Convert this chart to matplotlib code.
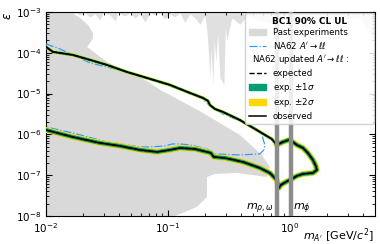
import matplotlib
matplotlib.use("Agg")
import matplotlib.pyplot as plt
from matplotlib.lines import Line2D
from matplotlib.patches import Patch

# resonance masses [GeV]
m_rho_omega = 0.78
m_phi = 1.02

# past experiments: main excluded region (closed polygon)
past_m = [0.0100, 0.0157, 0.0190, 0.0221, 0.0243, 0.0243, 0.0230, 0.0217, 0.0316, 0.0590,
          0.0753, 0.0860, 0.1038, 0.1936, 0.389, 0.5895, 0.6856, 0.647, 0.368, 0.2426,
          0.209, 0.209, 0.173, 0.1377, 0.114, 0.0100]
past_eps = [1e-3, 1e-3, 7.13e-4, 4.8e-4, 3.05e-4, 2.31e-4, 1.74e-4, 1.39e-4, 5.96e-5, 2.55e-5,
            1.63e-5, 1.23e-5, 9.24e-6, 3.35e-6, 9.67e-7, 3.13e-7, 1.58e-7, 9.0e-8, 1.13e-7, 1.07e-7,
            9.0e-8, 2.92e-8, 1.66e-8, 1.25e-8, 1e-8, 1e-8]

# past experiments: spiky band at the top (lower edge)
top_m = [0.0151, 0.0163, 0.0173, 0.0190, 0.0209, 0.0230, 0.0252, 0.0277, 0.0293, 0.0335,
         0.0368, 0.0389, 0.0444, 0.0488, 0.0537, 0.0590, 0.0648, 0.0712, 0.0782, 0.0860,
         0.0944, 0.1038, 0.114, 0.1254, 0.1377, 0.1514, 0.1663, 0.1829, 0.201, 0.2100,
         0.2209, 0.226, 0.234, 0.240, 0.247, 0.256, 0.2668, 0.2877, 0.296, 0.305, 0.335,
         0.389, 0.445, 0.5676, 0.7534, 0.828, 1.0, 1.208, 1.762, 2.57, 3.75, 4.98]
top_eps = [9.45e-4, 7.13e-4, 9.45e-4, 8.44e-4, 9.45e-4, 7.54e-4, 9.0e-4, 6.37e-4, 9.45e-4, 8.44e-4,
           6.0e-4, 9.45e-4, 8.0e-4, 9.45e-4, 7.13e-4, 9.0e-4, 5.69e-4, 9.45e-4, 8.44e-4, 9.45e-4,
           6.74e-4, 9.0e-4, 7.54e-4, 9.45e-4, 5.5e-4, 9.0e-4, 7.13e-4, 5.0e-4, 8.44e-4, 3.0e-4,
           2.5e-5, 1.2e-4, 1.63e-5, 2.0e-4, 6.0e-5, 3.0e-4, 2.5e-5, 1.63e-5, 4.0e-4, 2.06e-4,
           7.13e-4, 5.0e-4, 8.0e-4, 6.0e-4, 5.0e-4, 7.0e-4, 5.5e-4, 8.0e-4, 6.5e-4, 7.5e-4,
           7.0e-4, 2.06e-4]

# NA62 A'->ll (closed contour)
na62_m = [0.0100, 0.0130, 0.0230, 0.0316, 0.0488, 0.1038, 0.1936, 0.2209, 0.2824, 0.389,
          0.470, 0.537, 0.5895, 0.6238, 0.612, 0.5676, 0.389, 0.2426, 0.230, 0.209,
          0.1514, 0.1254, 0.109, 0.0944, 0.0712, 0.0590, 0.0316, 0.0166, 0.0100]
na62_eps = [1.64e-4, 1.24e-4, 5.63e-5, 4.49e-5, 3.2e-5, 1.54e-5, 7.4e-6, 4.97e-6, 3.16e-6, 2.13e-6,
            1.61e-6, 1.36e-6, 9.67e-7, 5.5e-7, 4.15e-7, 3.31e-7, 3.13e-7, 3.31e-7, 3.7e-7, 4.38e-7,
            5.5e-7, 5.82e-7, 5.82e-7, 5.2e-7, 4.91e-7, 4.91e-7, 6.52e-7, 1.08e-6, 1.52e-6]

# NA62 updated: observed, upper branch (up to the rho/omega mass)
obs_up_m = [0.0100, 0.0114, 0.0166, 0.0230, 0.0316, 0.0461, 0.0673, 0.1038, 0.1376, 0.1936,
            0.213, 0.2209, 0.2426, 0.2824, 0.389, 0.5676, 0.711, 0.781]
obs_up_eps = [1.39e-4, 1.05e-4, 8.84e-5, 6.67e-5, 5.03e-5, 3.38e-5, 2.41e-5, 1.63e-5, 1.16e-5, 7.8e-6,
              6.6e-6, 5.26e-6, 4.2e-6, 3.54e-6, 2.25e-6, 1.15e-6, 7.7e-7, 5.5e-7]

# observed, rest of the contour (high-mass tip and lower branch back to 10 MeV)
obs_lo_m = [0.781, 0.876, 0.98, 1.058, 1.141, 1.28, 1.405, 1.546, 1.634, 1.665,
            1.546, 1.28, 1.141, 1.038, 0.927, 0.844, 0.813, 0.781, 0.6856, 0.5676,
            0.412, 0.293, 0.238, 0.225, 0.166, 0.1254, 0.1038, 0.0813, 0.0590, 0.0404,
            0.0277, 0.0166, 0.0100]
obs_lo_eps = [5.5e-7, 6.5e-7, 7.29e-7, 6.5e-7, 5.5e-7, 4.65e-7, 3.5e-7, 2.36e-7, 1.68e-7, 1.34e-7,
              1.13e-7, 1.07e-7, 9.56e-8, 8.07e-8, 6.8e-8, 5.75e-8, 4.85e-8, 7.62e-8, 1.13e-7, 1.5e-7,
              2.11e-7, 2.64e-7, 2.79e-7, 3.5e-7, 4.38e-7, 4.64e-7, 4.15e-7, 3.7e-7, 4.15e-7, 5.2e-7,
              6.15e-7, 8.6e-7, 1.28e-6]

gray = '#d9d9d9'
green = '#009e73'
yellow = '#ffd700'
blue = '#3399ff'

fig = plt.figure(figsize=(3.8, 2.44), dpi=100)
ax = fig.add_axes([0.121, 0.115, 0.866, 0.836])

ax.fill(past_m, past_eps, color=gray, lw=0, zorder=1)
ax.fill_between(top_m, top_eps, 1e-3, color=gray, lw=0, alpha=0.8, zorder=1)

ax.plot(na62_m, na62_eps, color=blue, ls='-.', lw=0.9, zorder=3)

# expected bands drawn as thick strokes around the contour
ax.plot(obs_up_m, obs_up_eps, color=yellow, lw=2.4, solid_capstyle='round', zorder=4)
ax.plot(obs_up_m, obs_up_eps, color=green, lw=1.8, zorder=4)
ax.plot(obs_lo_m, obs_lo_eps, color=yellow, lw=4.2, solid_joinstyle='round', zorder=4)
ax.plot(obs_lo_m, obs_lo_eps, color=green, lw=2.8, solid_joinstyle='round', zorder=4)
ax.plot(obs_up_m + obs_lo_m, obs_up_eps + obs_lo_eps, color='k', ls='--', lw=1.0, zorder=5)
ax.plot(obs_up_m + obs_lo_m, obs_up_eps + obs_lo_eps, color='k', lw=1.1, zorder=6)

ax.axvline(m_rho_omega, color='#8c8c8c', lw=3.2, zorder=7)
ax.axvline(m_phi, color='#8c8c8c', lw=3.2, zorder=7)
ax.text(m_rho_omega * 0.955, 1.5e-8, r'$m_{\rho,\omega}$', ha='right', va='center', fontsize=8)
ax.text(m_phi * 1.04, 1.5e-8, r'$m_{\phi}$', ha='left', va='center', fontsize=8)

ax.set_xscale('log')
ax.set_yscale('log')
ax.set_xlim(0.01, 5)
ax.set_ylim(1e-8, 1e-3)
ax.tick_params(which='both', direction='in', top=True, right=True, labelsize=7.5)
ax.tick_params(which='major', length=4)
ax.tick_params(which='minor', length=2)
ax.set_xlabel(r"$m_{A'}$ [GeV/$c^2$]", fontsize=8)
ax.xaxis.set_label_coords(0.995, -0.05)
ax.xaxis.label.set_ha('right')
ax.set_ylabel(r'$\epsilon$', loc='top', fontsize=8.5, labelpad=1)

handles = [Patch(color=gray),
           Line2D([], [], color=blue, ls='-.', lw=0.9),
           Line2D([], [], color='none'),
           Line2D([], [], color='k', ls='--', lw=1.0),
           Patch(color=green),
           Patch(color=yellow),
           Line2D([], [], color='k', lw=1.1)]
labels = ['Past experiments', r"NA62 $A'\to\ell\ell$", r"NA62 updated $A'\to\ell\ell$ :",
          'expected', r'exp. $\pm1\sigma$', r'exp. $\pm2\sigma$', 'observed']
leg = ax.legend(handles, labels, loc='upper right', fontsize=6.2, title='BC1 90% CL UL',
                title_fontproperties={'weight': 'bold', 'size': 6.4}, labelspacing=0.3,
                borderaxespad=0.15, framealpha=0.85, handlelength=2.0)
leg.set_zorder(10)
leg.get_texts()[2].set_x(-21)

fig.savefig('out.png', dpi=100)
